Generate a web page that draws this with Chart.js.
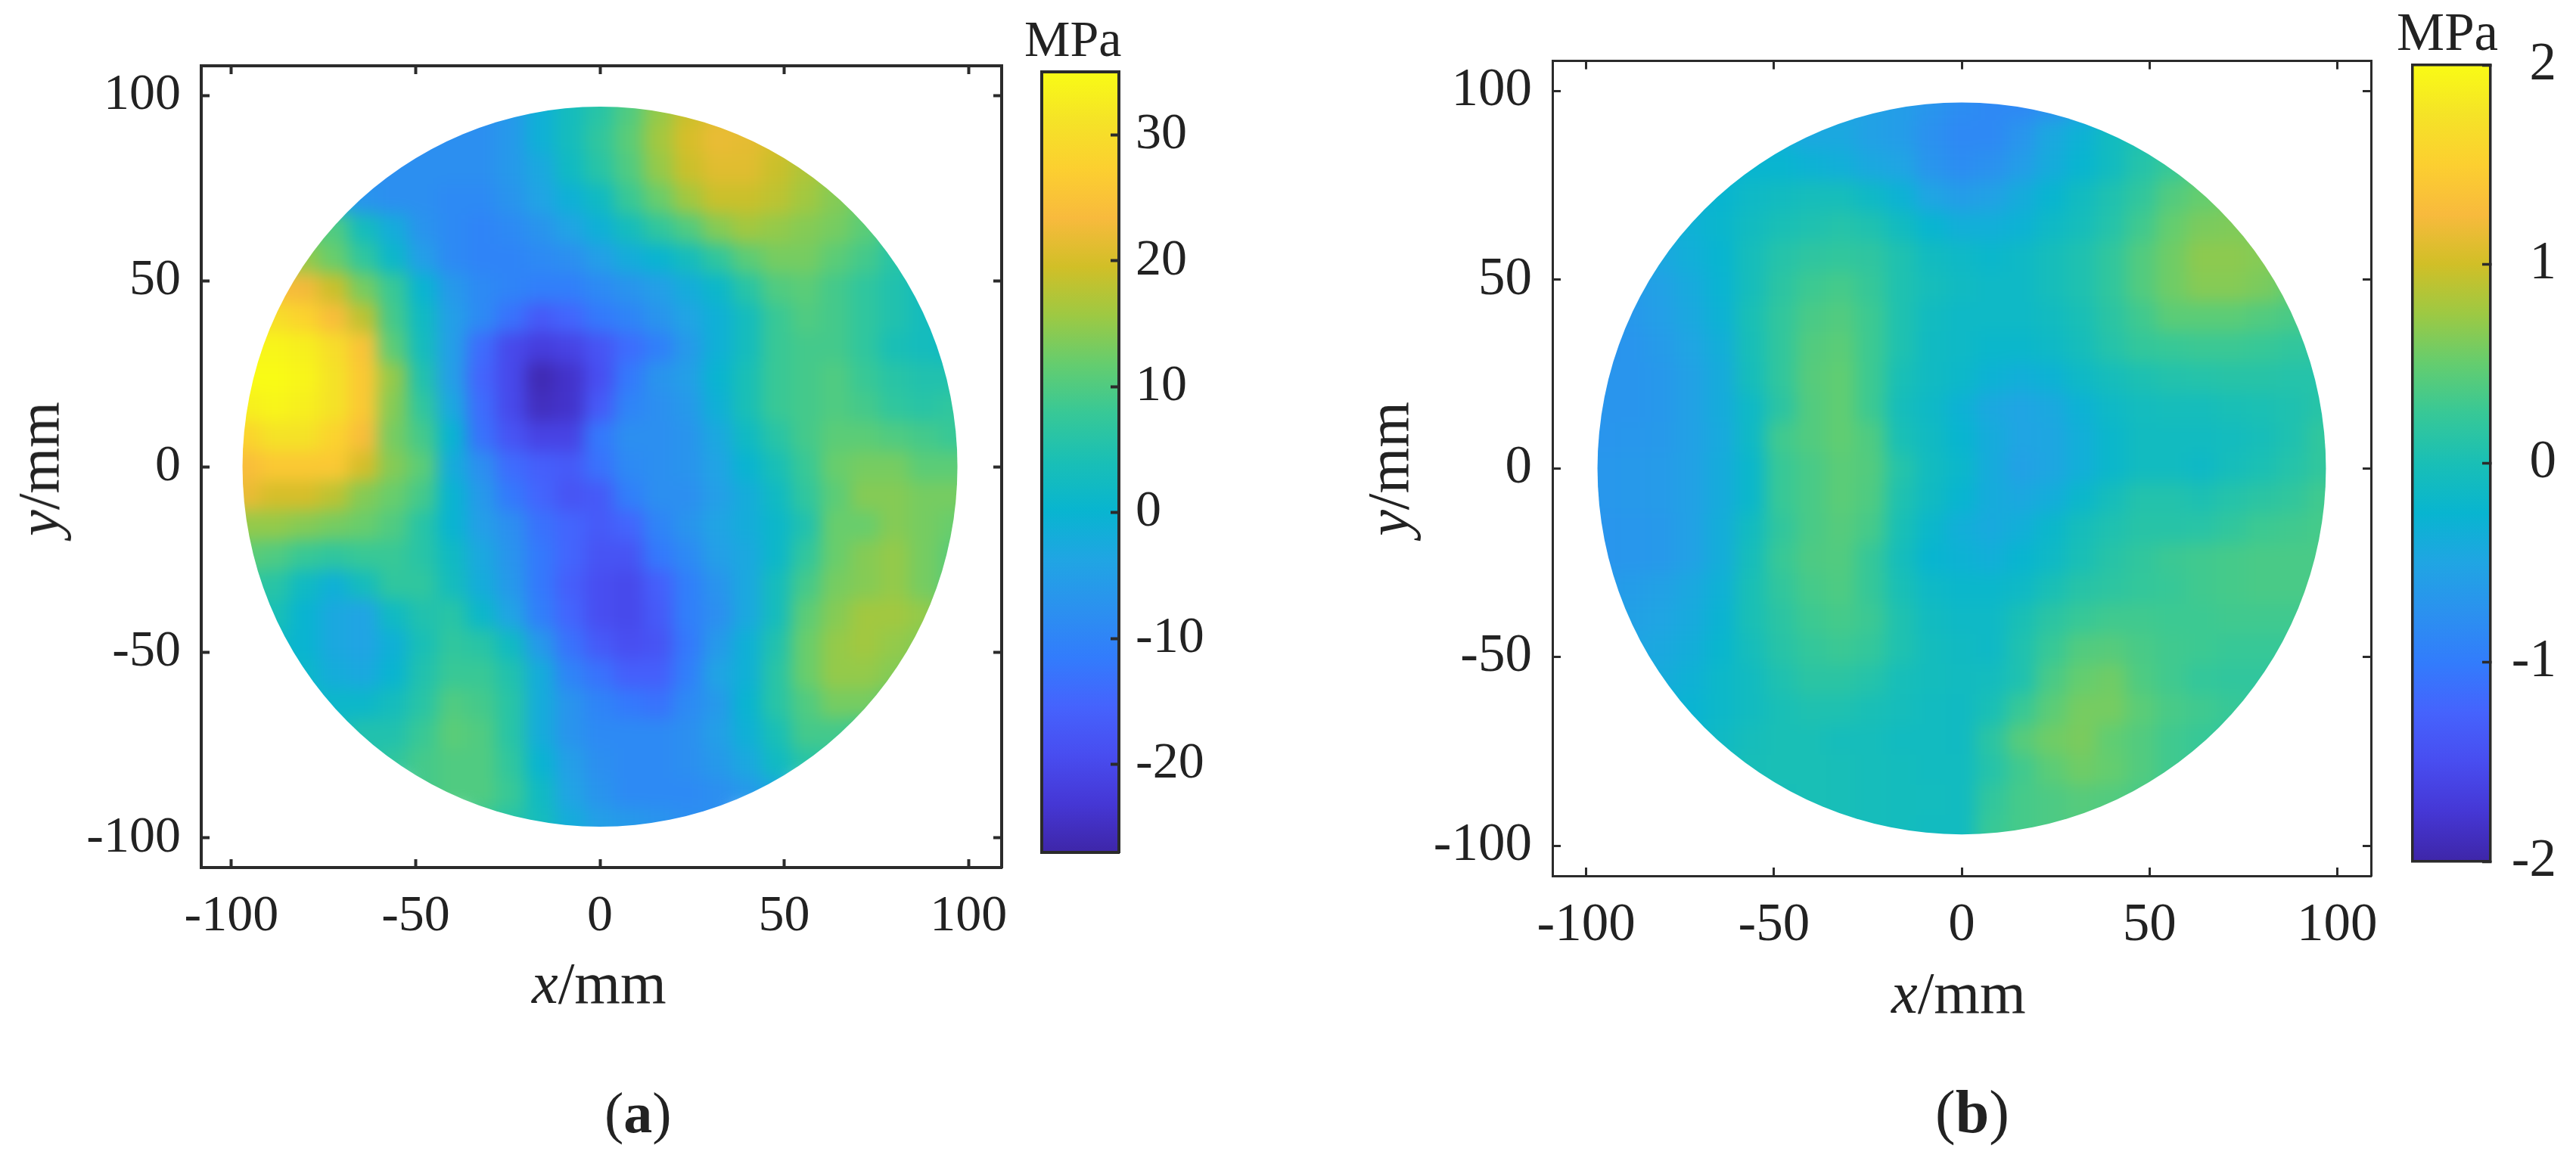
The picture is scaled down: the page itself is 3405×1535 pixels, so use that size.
<!DOCTYPE html>
<html><head><meta charset="utf-8">
<script src="https://cdn.jsdelivr.net/npm/chart.js@4"></script>
<style>
html,body{margin:0;padding:0;background:#fff;width:3405px;height:1535px;overflow:hidden}
canvas{position:absolute;left:0;top:0}
.t{position:absolute;font-family:"Liberation Serif",serif;color:#222;white-space:nowrap;line-height:0}
.r{line-height:normal;transform:translate(-50%,-50%) rotate(-90deg)}
</style></head><body>
<canvas id="heatA" width="3405" height="1535"></canvas>
<canvas id="barA" width="3405" height="1535"></canvas>
<canvas id="heatB" width="3405" height="1535"></canvas>
<canvas id="barB" width="3379" height="1535"></canvas>
<div class="t" style="left:1354px;top:51px;font-size:68px">MPa</div>
<div class="t" style="left:3168px;top:42px;font-size:71px">MPa</div>
<div class="t" style="left:703px;top:1300px;font-size:78px"><i>x</i>/mm</div>
<div class="t" style="left:2500px;top:1313px;font-size:78px"><i>x</i>/mm</div>
<div class="t r" style="left:51px;top:620px;font-size:78px"><i>y</i>/mm</div>
<div class="t r" style="left:1835px;top:620px;font-size:78px"><i>y</i>/mm</div>
<div class="t" style="left:799px;top:1471px;font-size:76px">(<b>a</b>)</div>
<div class="t" style="left:2558px;top:1470px;font-size:80px">(<b>b</b>)</div>
<script>
// ---- tick labels
const axisTicks = [-100, -50, 0, 50, 100];
const barTicksA = [-20, -10, 0, 10, 20, 30];
const barTicksB = [-2, -1, 0, 1, 2];
const rangeA = [-27, 35];
const rangeB = [-2, 2];
const circleRadius = 97;   // mm
const cellSize = 8;        // mm between readings
// rows of readings from the top (y=104) to the bottom (y=-104); each row is centred on x=0
const gridY = [104,96,88,80,72,64,56,48,40,32,24,16,8,0,-8,-16,-24,-32,-40,-48,-56,-64,-72,-80,-88,-96,-104];
const stressA = [
[-8,-6,-1,3,5,10,14,18,20],
[-8,-8,-8,-6,-1,3,6,10,15,19,21,21,20],
[-8,-8,-8,-8,-8,-6,-1,3,7,11,16,20,22,21.5,20,18,17],
[-8,-8,-8,-8,-8,-8,-6,-3,2,6,10,15,19,21,21,19,17,15,13],
[2,-3,-7,-8,-8,-9,-9,-7,-4,-1,2,8,12,16,19,19,18,16,14,12,10],
[10,11,10,3,-2,-7,-9,-10,-9,-7,-4,-1,3,7,10,14,16,15,14,13,11,8,6],
[18,18,15,12,7,1,-5,-9,-10,-10,-9,-8,-5,-2,0,3,7,11,13,13,11,9,6,4,3],
[24,24,23,19,13,8,0,-6,-9,-10,-11,-11,-9,-7,-5,-2,1,6,10,11,9,7,5,3,2],
[31,31,30,28,24,18,9,2,-5,-9,-13,-17,-15,-12,-10,-7,-4,-1,3,8,10,9,7,5,3,2,2],
[33,34,34,33,30,25,11,3,-5,-14,-20,-22,-21,-18,-14,-11,-6,-1,3,8,9,9,7,4,3,2,3],
[34,35,35,34,31,26,15,5,-5,-15,-20,-26,-24,-19,-12,-7,-5,0,4,8,9,10,8,6,5,5,6],
[32,33,34,33,31,26,14,7,-3,-14,-20,-25,-24,-17,-10,-8,-6,-1,4,8,9,10,9,7,6,7,7],
[28,28,31,31,28,24,13,9,0,-13,-18,-21,-21,-12,-8,-8,-7,-3,2,6,9,11,11,10,9,8,8],
[24,24,26,26,26,20,14,11,-2,-8,-14,-16,-17,-13,-9,-8,-7,-4,0,4,8,12,13,13,11,11,11],
[22,22,20,20,18,14,12,9,0,-6,-12,-15,-18,-17,-11,-8,-8,-5,-2,2,7,11,14,14,13,13,13],
[15,15,15,14,13,12,10,6,0,-5,-8,-13,-15,-17,-15,-10,-7,-4,-2,1,5,12,12,14,13,12,12],
[11,10,8,7,8,8,6,2,-3,-7,-12,-15,-18,-18,-12,-9,-5,-3,1,7,12,14,15,13,11],
[7,6,2,-1,3,7,7,3,-2,-6,-12,-16,-19,-20,-16,-11,-7,-3,3,9,13,14,15,13,11],
[5,4,0,-3,-4,2,5,6,1,-4,-11,-15,-19,-20,-17,-11,-8,-3,3,11,14,16,16,15,12],
[2,0,-3,-4,-1,4,7,6,2,-6,-13,-17,-19,-18,-12,-6,-1,5,12,15,16,15,14],
[2,1,-2,-3,0,5,8,8,5,-2,-10,-13,-16,-16,-11,-4,-1,6,12,15,15,14,12],
[2,1,1,3,6,10,9,6,-2,-7,-10,-12,-13,-9,-6,0,6,10,13,13,11],
[3,5,5,8,11,10,6,-2,-7,-9,-9,-9,-8,-5,-1,4,9,9,8],
[5,7,9,10,10,7,0,-5,-8,-9,-9,-8,-6,-3,2,6,7],
[9,10,10,8,2,-4,-7,-9,-9,-9,-8,-6,-3],
[8,6,3,-2,-5,-6,-7,-8,-8],
[6,3,-2,-5,-6,-7,-8]
];
const stressB = [
[-.6,-.65,-.7,-.75,-.8,-.85,-.8,-.7,-.5],
[-.4,-.45,-.5,-.55,-.6,-.7,-.8,-.85,-.85,-.75,-.55,-.35,-.2],
[-.35,-.35,-.35,-.45,-.45,-.55,-.6,-.75,-.85,-.85,-.7,-.45,-.3,-.1,.05,.2,.3],
[-.35,-.3,-.25,-.25,-.3,-.35,-.45,-.5,-.7,-.8,-.75,-.6,-.4,-.25,-.1,.1,.25,.4,.5],
[-.4,-.3,-.25,-.15,-.1,-.05,-.05,-.15,-.3,-.5,-.6,-.55,-.4,-.25,-.1,.05,.2,.4,.5,.55,.55],
[-.5,-.42,-.32,-.22,-.1,0,.05,.1,.05,-.1,-.25,-.35,-.35,-.3,-.15,-.05,.1,.3,.5,.6,.62,.6,.55],
[-.62,-.55,-.45,-.35,-.25,-.05,.1,.18,.2,.18,.05,-.1,-.15,-.2,-.15,-.05,.05,.2,.4,.55,.68,.68,.65,.6,.55],
[-.68,-.62,-.55,-.42,-.27,-.05,.15,.28,.33,.23,.05,-.05,-.12,-.15,-.15,-.05,.05,.2,.4,.55,.65,.65,.6,.5,.45],
[-.72,-.72,-.66,-.58,-.45,-.3,0,.2,.35,.4,.28,.05,-.1,-.15,-.15,-.15,-.1,0,.15,.3,.45,.45,.45,.4,.35,.3,.3],
[-.72,-.72,-.7,-.63,-.5,-.36,-.02,.2,.4,.45,.28,.05,-.12,-.15,-.2,-.2,-.15,-.05,.1,.22,.25,.27,.27,.25,.2,.18,.18],
[-.7,-.7,-.7,-.66,-.55,-.4,-.05,.2,.42,.48,.28,0,-.12,-.18,-.3,-.35,-.3,-.15,-.05,.03,.08,.1,.12,.12,.1,.1,.1],
[-.7,-.7,-.7,-.66,-.55,-.4,-.15,.15,.4,.48,.28,-.05,-.15,-.3,-.45,-.5,-.45,-.3,-.15,-.08,-.05,-.05,0,.02,.05,.12,.15],
[-.7,-.7,-.68,-.65,-.55,-.42,-.15,.3,.4,.48,.38,0,-.12,-.25,-.4,-.5,-.48,-.35,-.2,-.1,-.1,-.1,-.08,-.03,.05,.2,.2],
[-.68,-.68,-.65,-.63,-.55,-.4,-.2,.25,.35,.45,.4,.1,-.1,-.2,-.4,-.55,-.48,-.35,-.2,-.1,-.1,-.15,-.05,.02,.1,.2,.2],
[-.68,-.68,-.65,-.63,-.55,-.4,-.2,.25,.35,.45,.38,.05,-.12,-.25,-.4,-.45,-.38,-.2,-.05,.08,.08,.03,.1,.15,.2,.3,.3],
[-.7,-.7,-.68,-.65,-.55,-.37,-.1,.2,.35,.42,.33,0,-.2,-.35,-.42,-.35,-.2,-.05,.05,.12,.12,.13,.2,.28,.3,.33,.33],
[-.7,-.68,-.65,-.55,-.37,-.05,.25,.37,.4,.23,-.05,-.25,-.3,-.35,-.25,-.15,0,.12,.2,.27,.3,.33,.35,.35,.35],
[-.65,-.6,-.55,-.45,-.32,0,.2,.33,.38,.23,0,-.15,-.2,-.2,-.15,0,.12,.17,.22,.25,.3,.33,.35,.35,.35],
[-.6,-.55,-.5,-.42,-.28,0,.15,.28,.33,.27,.05,-.1,-.15,-.15,0,.15,.25,.3,.3,.28,.28,.3,.3,.3,.3],
[-.5,-.45,-.37,-.23,-.05,.12,.22,.27,.22,.05,-.07,-.12,-.15,.05,.25,.4,.42,.35,.3,.28,.25,.25,.25],
[-.45,-.4,-.32,-.18,-.1,.05,.15,.15,.1,-.03,-.07,-.1,-.08,.05,.35,.5,.55,.38,.3,.22,.2,.2,.2],
[-.35,-.32,-.27,-.18,-.1,0,.05,.05,0,-.05,-.1,-.12,0,.25,.45,.58,.58,.45,.35,.3,.25,.2,.2],
[-.27,-.22,-.13,-.05,0,0,-.05,-.05,-.1,-.1,-.12,.15,.42,.55,.6,.48,.4,.3,.25,.2,.2],
[-.15,-.08,-.02,0,0,-.02,-.05,-.07,-.1,-.1,.1,.3,.45,.55,.5,.4,.3,.25,.2],
[-.1,-.05,-.02,0,-.02,-.05,-.07,-.08,-.1,.2,.33,.37,.42,.4,.35,.3,.25],
[-.05,-.03,-.03,-.05,-.07,-.1,-.1,.25,.33,.37,.4,.38,.35],
[-.03,-.05,-.07,-.1,-.1,.25,.33,.37,.4]
];
// parula colour stops
const parula = [[62,38,168],[69,55,213],[72,77,240],[69,99,253],[50,124,252],[43,145,239],[32,165,227],[8,181,208],[25,191,182],[55,200,151],[100,205,111],[157,201,67],[209,191,39],[248,186,61],[252,207,48],[245,227,39],[249,251,21]];

// ---- layout (page pixels)
const H = 1535;
const layoutA = {id:'heatA', w:3405, box:[266,87,1324,1147], xlim:[-108.2,109], ylim:[-108,108], line:4, font:68, blur:11};
const layoutB = {id:'heatB', w:3405, box:[2052,80,3134,1158], xlim:[-109,109], ylim:[-108,108], line:3, font:71, blur:11};
const cbarA = {id:'barA', w:3405, box:[1377,95,1479,1127], line:4, font:68, pad:33, cross:'near'};
const cbarB = {id:'barB', w:3379, box:[3189,86,3292,1139], line:3.5, font:71, pad:22, cross:'far'};
const INK = '#2b2b2b', TXT = '#222';
const FAMILY = '"Liberation Serif", serif';

function colourOf(v, range){
  const t = Math.min(1, Math.max(0, (v-range[0])/(range[1]-range[0])))*(parula.length-1);
  const i = Math.min(parula.length-2, Math.floor(t)), f = t-i;
  const c = parula[i].map((a,k)=>Math.round(a+(parula[i+1][k]-a)*f));
  return `rgb(${c[0]},${c[1]},${c[2]})`;
}
const fit = size => s => { if (s.isHorizontal()) s.height = size; else s.width = size; };
const setTicks = vals => s => { s.ticks = vals.map(value=>({value})); };

function axis(position, size, lim, ticks, o, showLabels, padding){
  return {
    type:'linear', position, min:lim[0], max:lim[1], afterFit:fit(size), afterBuildTicks:setTicks(ticks),
    grid:{display:true, drawOnChartArea:false, drawTicks:true, tickLength:-11, tickWidth:o.line, tickColor:INK, z:1},
    border:{display:true, color:INK, width:o.line, z:1},
    ticks:{display:showLabels, autoSkip:false, maxRotation:0, minRotation:0, padding, color:TXT, z:1,
      font:{family:FAMILY, size:o.font}, callback:v=>String(v)}
  };
}

// blurs the cell layer so readings blend as in the shaded original, then trims to the specimen disc
const discPlugin = {
  id:'disc',
  afterDatasetsDraw(chart){
    const {ctx, canvas, scales:{x,y}} = chart;
    const tmp = document.createElement('canvas'); tmp.width = canvas.width; tmp.height = canvas.height;
    tmp.getContext('2d').drawImage(canvas,0,0);
    const cx = x.getPixelForValue(0), cy = y.getPixelForValue(0);
    const rx = Math.abs(x.getPixelForValue(circleRadius)-cx), ry = Math.abs(y.getPixelForValue(circleRadius)-cy);
    ctx.save();
    ctx.setTransform(1,0,0,1,0,0);
    ctx.clearRect(0,0,canvas.width,canvas.height);
    ctx.beginPath(); ctx.ellipse(cx,cy,rx,ry,0,0,Math.PI*2); ctx.clip();
    ctx.filter = `blur(${chart.options.plugins.disc.blur}px)`;
    ctx.drawImage(tmp,0,0);
    ctx.restore();
  }
};

function heat(o, rows, range){
  const [l,t,r,b] = o.box;
  const points = rows.flatMap((row,j)=>row.map((v,i)=>({x:(i-(row.length-1)/2)*cellSize, y:gridY[j], v})));
  new Chart(document.getElementById(o.id), {
    type:'scatter',
    data:{datasets:[{data:points, pointStyle:'rect', borderWidth:0, pointBorderWidth:0,
      backgroundColor:c=>c.raw?colourOf(c.raw.v,range):'#000',
      pointRadius:c=>{const s=c.chart.scales.x; return Math.SQRT2*(Math.abs(s.getPixelForValue(cellSize)-s.getPixelForValue(0))/2+1);},
      clip:false}]},
    options:{
      responsive:false, animation:false, events:[], layout:{padding:0},
      plugins:{legend:{display:false}, tooltip:{enabled:false}, disc:{blur:o.blur}},
      scales:{
        x:axis('bottom',H-b,o.xlim,axisTicks,o,true,35),
        x2:axis('top',t,o.xlim,axisTicks,o,false,0),
        y:axis('left',l,o.ylim,axisTicks,o,true,38),
        y2:axis('right',o.w-r,o.ylim,axisTicks,o,false,0)
      }
    },
    plugins:[discPlugin]
  });
}

function cbar(o, range, ticks){
  const [l,t,r,b] = o.box;
  const plain = (position,size)=>({position, afterFit:fit(size), display:true, grid:{display:false},
    ticks:{display:false}, border:{display:true,color:INK,width:o.line,z:1}});
  const yAxis = axis('right',o.w-r,range,ticks,o,true,o.pad);
  yAxis.ticks.crossAlign = o.cross;
  new Chart(document.getElementById(o.id), {
    type:'bar',
    data:{labels:['MPa'], datasets:[{data:[range], barPercentage:1, categoryPercentage:1, borderWidth:0,
      backgroundColor:c=>{
        const s=c.chart.scales.y, y0=s.getPixelForValue(range[0]), y1=s.getPixelForValue(range[1]);
        if(!isFinite(y0)||!isFinite(y1)) return 'rgb(25,191,182)';
        const g=c.chart.ctx.createLinearGradient(0,y0,0,y1);
        parula.forEach((p,i)=>g.addColorStop(i/(parula.length-1),`rgb(${p})`));
        return g;
      }}]},
    options:{
      responsive:false, animation:false, events:[], layout:{padding:0},
      plugins:{legend:{display:false}, tooltip:{enabled:false}},
      scales:{
        x:Object.assign(plain('bottom',H-b),{type:'category'}),
        x2:Object.assign(plain('top',t),{type:'linear',axis:'x'}),
        y:yAxis,
        y2:Object.assign(plain('left',l),{type:'linear',axis:'y'})
      }
    }
  });
}
heat(layoutA, stressA, rangeA);
cbar(cbarA, rangeA, barTicksA);
heat(layoutB, stressB, rangeB);
cbar(cbarB, rangeB, barTicksB);
</script>
</body></html>
